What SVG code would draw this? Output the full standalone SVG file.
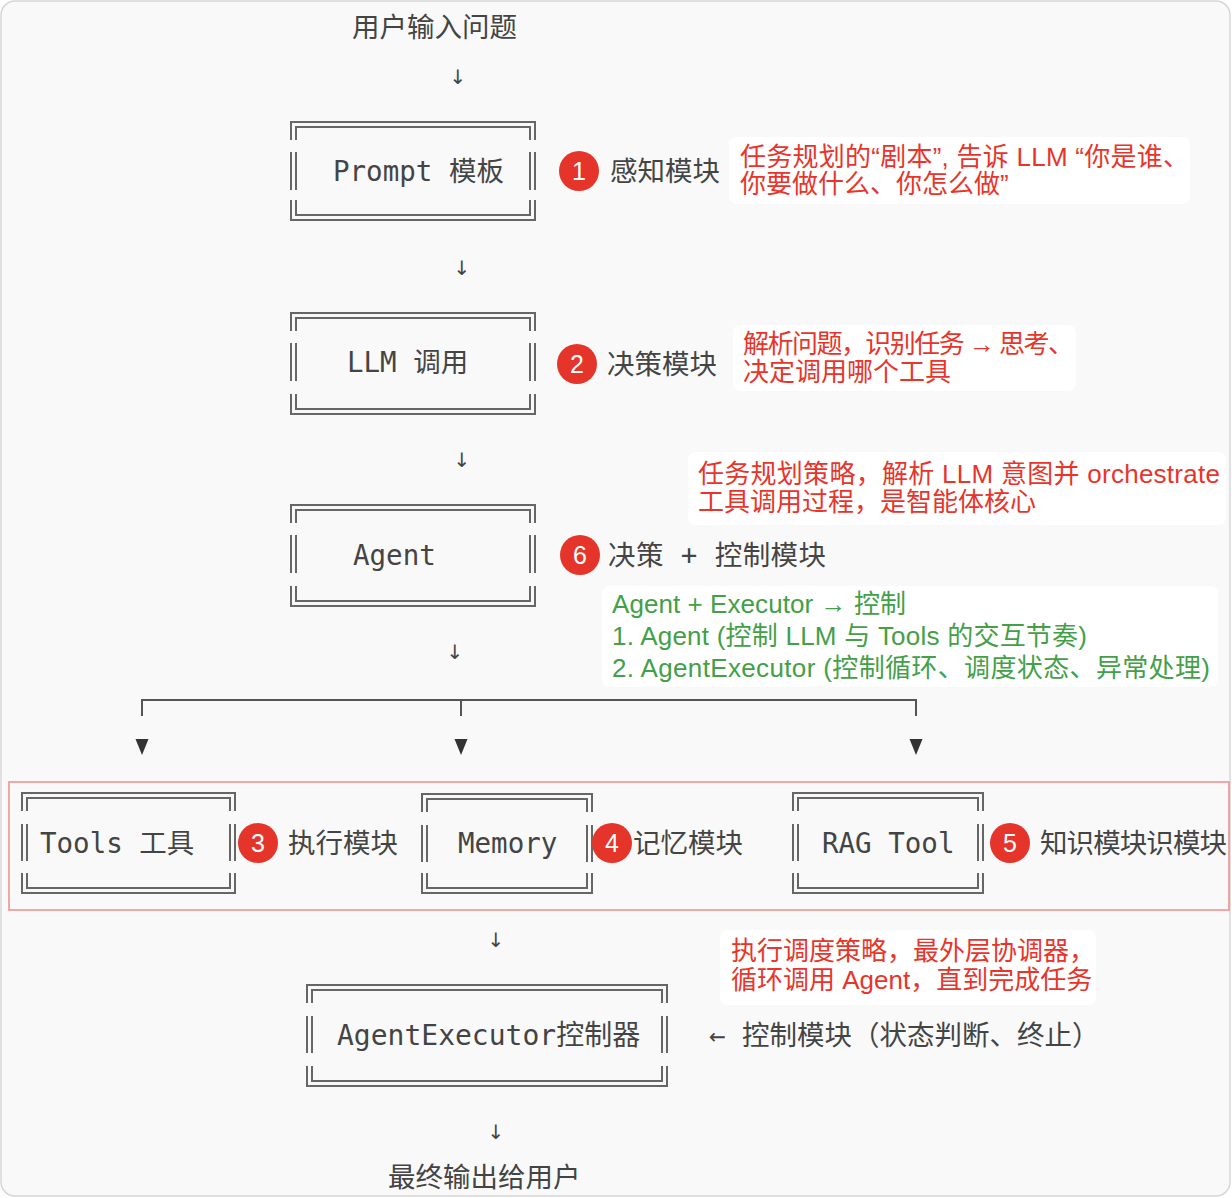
<svg xmlns="http://www.w3.org/2000/svg" width="1232" height="1198" viewBox="0 0 1232 1198">
<style>
.mono{font-family:'DejaVu Sans Mono','Noto Sans CJK SC',monospace;font-size:27.5px;fill:#444;dominant-baseline:central}
.arr{font-family:'DejaVu Sans','Noto Sans CJK SC',sans-serif;font-size:20px;fill:#444;dominant-baseline:central;text-anchor:middle}
.dl{fill:none;stroke:#666;stroke-width:2}
.call{fill:#fff}
.red{font-family:'Liberation Sans','Noto Sans CJK SC',sans-serif;font-size:26px;fill:#e8352b;dominant-baseline:central}
.green{font-family:'Liberation Sans','Noto Sans CJK SC',sans-serif;font-size:26px;fill:#43a047;dominant-baseline:central}
.badge{fill:#e5352a}
.bnum{font-family:'Liberation Sans',sans-serif;font-size:25px;fill:#fff;text-anchor:middle;dominant-baseline:central}
.conn{fill:none;stroke:#555;stroke-width:2}
.tri{fill:#333}
</style>
<rect x="1" y="1" width="1229" height="1195" rx="14" fill="#f9f9f9" stroke="#d6d6d6" stroke-width="1.5"/>

<text class="mono" x="352" y="27">用户输入问题</text>
<text class="arr" x="458" y="77">↓</text>

<g id="node-prompt">
<path class="dl" d="M291 140V122H535V140M296 140V127H530V140M291 152V190M296 152V190M530 152V190M535 152V190M291 200V220H535V200M296 200V215H530V200"/>
<text class="mono" x="333" y="171">Prompt 模板</text>
</g>
<g id="note-1">
<circle class="badge" cx="579" cy="171" r="20"/><text class="bnum" x="579" y="171">1</text>
<text class="mono" x="610" y="171">感知模块</text>
<rect class="call" x="729" y="137" width="461" height="67" rx="8"/>
<text class="red" x="740" y="157" textLength="449">任务规划的“剧本”, 告诉 LLM “你是谁、</text>
<text class="red" x="740" y="184">你要做什么、你怎么做”</text>
</g>

<text class="arr" x="462" y="268">↓</text>

<g id="node-llm">
<path class="dl" d="M291 331V313H535V331M296 331V318H530V331M291 343V381M296 343V381M530 343V381M535 343V381M291 394V414H535V394M296 394V409H530V394"/>
<text class="mono" x="347" y="362">LLM 调用</text>
</g>
<g id="note-2">
<circle class="badge" cx="577" cy="364" r="20"/><text class="bnum" x="577" y="364">2</text>
<text class="mono" x="607" y="364">决策模块</text>
<rect class="call" x="733" y="325" width="343" height="66" rx="8"/>
<text class="red" x="743" y="344" textLength="331">解析问题，识别任务 → 思考、</text>
<text class="red" x="743" y="372">决定调用哪个工具</text>
</g>

<text class="arr" x="462" y="460">↓</text>

<g id="node-agent">
<path class="dl" d="M291 523V505H535V523M296 523V510H530V523M291 535V573M296 535V573M530 535V573M535 535V573M291 586V606H535V586M296 586V601H530V586"/>
<text class="mono" x="353" y="555">Agent</text>
</g>
<g id="note-6">
<rect class="call" x="688" y="452" width="538" height="73" rx="8"/>
<text class="red" x="698" y="474" textLength="522">任务规划策略，解析 LLM 意图并 orchestrate</text>
<text class="red" x="698" y="502">工具调用过程，是智能体核心</text>
<circle class="badge" cx="580" cy="555" r="20"/><text class="bnum" x="580" y="555">6</text>
<text class="mono" x="608" y="555" textLength="218">决策 + 控制模块</text>
<rect class="call" x="602" y="586" width="616" height="101" rx="8"/>
<text class="green" x="612" y="604" textLength="294">Agent + Executor → 控制</text>
<text class="green" x="612" y="636" textLength="475">1. Agent (控制 LLM 与 Tools 的交互节奏)</text>
<text class="green" x="612" y="668" textLength="598">2. AgentExecutor (控制循环、调度状态、异常处理)</text>
</g>

<g id="connectors">
<path class="conn" d="M142 716V700H916V716M461 700V716"/>
<path class="tri" d="M135.5 739H148.5L142 755Z"/>
<path class="tri" d="M454.5 739H467.5L461 755Z"/>
<path class="tri" d="M909.5 739H922.5L916 755Z"/>
</g>

<text class="arr" x="455" y="652">↓</text>

<rect x="9" y="782" width="1220" height="128" fill="none" stroke="#f08c8c" stroke-width="1.5"/>

<g id="node-tools">
<path class="dl" d="M22 811V793H235V811M27 811V798H230V811M22 824V861M27 824V861M230 824V861M235 824V861M22 873V893H235V873M27 873V888H230V873"/>
<text class="mono" x="40" y="843">Tools 工具</text>
</g>
<g id="note-3">
<circle class="badge" cx="258" cy="843" r="20"/><text class="bnum" x="258" y="843">3</text>
<text class="mono" x="288" y="843">执行模块</text>
</g>

<g id="node-memory">
<path class="dl" d="M422 812V794H592V812M427 812V799H587V812M422 825V862M427 825V862M587 825V862M592 825V862M422 873V893H592V873M427 873V888H587V873"/>
<text class="mono" x="458" y="843">Memory</text>
</g>
<g id="note-4">
<circle class="badge" cx="612" cy="843" r="20"/><text class="bnum" x="612" y="843">4</text>
<text class="mono" x="633" y="843">记忆模块</text>
</g>

<g id="node-rag">
<path class="dl" d="M793 811V793H983V811M798 811V798H978V811M793 824V861M798 824V861M978 824V861M983 824V861M793 873V893H983V873M798 873V888H978V873"/>
<text class="mono" x="822" y="843">RAG Tool</text>
</g>
<g id="note-5">
<circle class="badge" cx="1010" cy="843" r="20"/><text class="bnum" x="1010" y="843">5</text>
<text class="mono" x="1040" y="843" textLength="187">知识模块识模块</text>
</g>

<text class="arr" x="496" y="940">↓</text>

<g id="node-executor">
<path class="dl" d="M307 1003V985H667V1003M312 1003V990H662V1003M307 1016V1053M312 1016V1053M662 1016V1053M667 1016V1053M307 1066V1086H667V1066M312 1066V1081H662V1066"/>
<text class="mono" x="337" y="1035" style="font-size:28px">AgentExecutor控制器</text>
</g>
<g id="note-exec">
<rect class="call" x="720" y="930" width="376" height="75" rx="8"/>
<text class="red" x="731" y="951">执行调度策略，最外层协调器，</text>
<text class="red" x="731" y="980">循环调用 Agent，直到完成任务</text>
<text class="mono" x="709" y="1035">← 控制模块（状态判断、终止）</text>
</g>

<text class="arr" x="496" y="1132">↓</text>
<text class="mono" x="388" y="1177">最终输出给用户</text>
</svg>
